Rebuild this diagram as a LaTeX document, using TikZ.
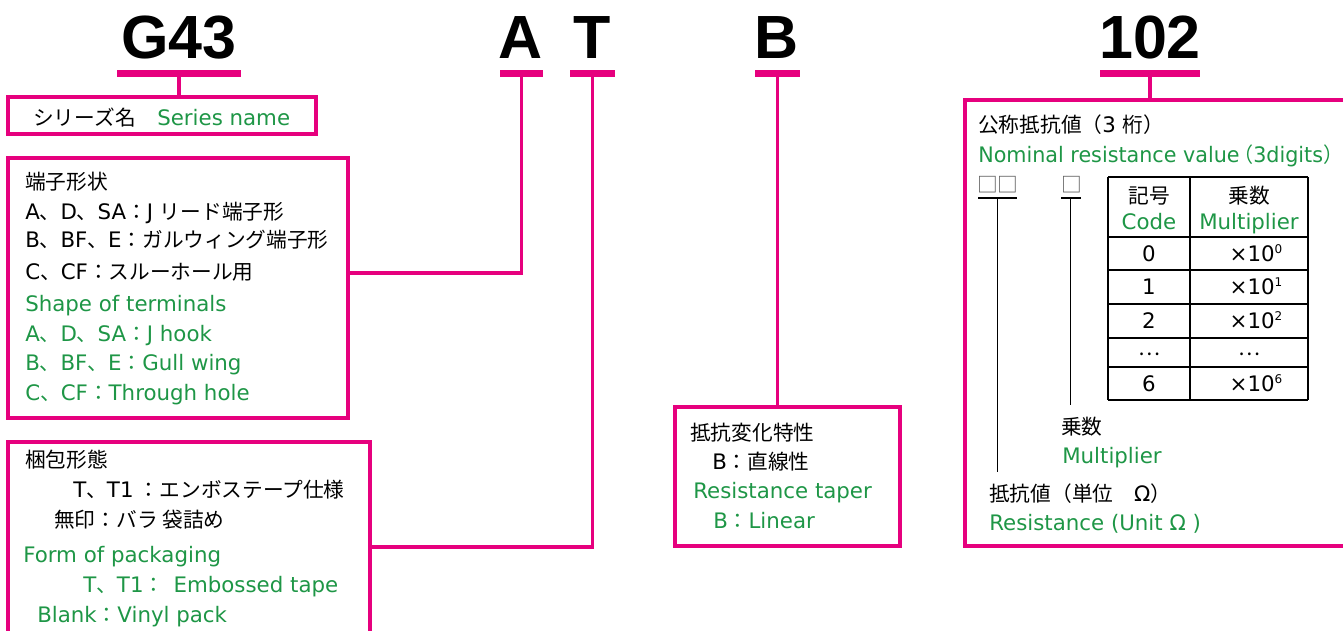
\documentclass[tikz,border=0pt]{standalone}
\usepackage{graphicx}
\usepackage{fontspec}
\setmainfont{DejaVu Sans}
\newfontfamily\jpfont{Noto Sans CJK JP}[Scale=0.97]
\newfontfamily\codefont{Liberation Sans}
\usepackage{tikz}
\usetikzlibrary{fit}
\definecolor{pmagenta}{RGB}{230,0,126}
\definecolor{pgreen}  {RGB}{30,150,70}
\definecolor{sqgray}  {RGB}{85,85,85}
\newcommand\jtext[1]{{\jpfont #1}}
\newcommand\pow[1]{\raisebox{6pt}{\fontsize{9}{9}\selectfont #1}}
\tikzset{
    code/.style={font=\codefont\bfseries\fontsize{45.75}{50}\selectfont, anchor=base, inner sep=0pt},
    bar/.style={fill=pmagenta, inner sep=0pt},
    lead/.style={draw=pmagenta, line width=2.3pt},
    pbox/.style={draw=pmagenta, line width=2.6pt, inner sep=0pt},
    txt/.style={font=\fontsize{16}{20}\selectfont, anchor=west, inner sep=0pt,
      text height=11.5pt, text depth=0pt},
    en/.style={txt, text=pgreen},
    cell/.style={font=\fontsize{16}{20}\selectfont, inner sep=0pt,
      text height=11.5pt, text depth=0pt},
    tick/.style={draw=black, line width=1.3pt}
  }

\begin{document}
\begin{tikzpicture}[x=0.75pt, y=-0.75pt]
 \useasboundingbox (0,0) rectangle (1343,631);
 \clip (0,0) rectangle (1343,631);
 %Part number
     \node[code] (g43) at (179,58.5) {G43};
     \node[code] (a)   at (521,58.5) {A};
     \node[code] (t)   at (592.5,58.5) {T};
     \node[code] (b)   at (777,58.5) {B};
     \node[code] (val) at (1150,58.5) {102};
 %Bars
     \node[bar, fit={(117,70) (241,77)}]   (g43bar) {};
     \node[bar, fit={(500,70) (543,77)}]   (abar)   {};
     \node[bar, fit={(570,70) (615,77)}]   (tbar)   {};
     \node[bar, fit={(755,70) (800,77)}]   (bbar)   {};
     \node[bar, fit={(1100,70) (1200,77)}] (valbar) {};
 %Boxes
     \node[pbox, fit={(8,97) (316,134)}]    (series)  {};
     \node[pbox, fit={(8,158) (348,418)}]   (shape)   {};
     \node[pbox, fit={(8,442) (370,660)}]   (pack)    {};
     \node[pbox, fit={(675,407) (900,546)}] (taper)   {};
     \node[pbox, fit={(965,100) (1380,546)}] (nominal) {};
 %Leads
     \coordinate (aturn) at (0,273);
     \coordinate (tturn) at (0,547);
     \draw[lead] (g43bar.south) -- (g43bar.south |- series.north);
     \draw[lead] (abar.south) |- (shape.east |- aturn);
     \draw[lead] (tbar.south) |- (pack.east |- tturn);
     \draw[lead] (bbar.south) -- (bbar.south |- taper.north);
     \draw[lead] (valbar.south) -- (valbar.south |- nominal.north);
 %Series name
     \node[txt] (series1) at (33,118)  {\jtext{シリーズ名}};
     \node[en]  (series2) at (157,118) {Series name};
 %Shape of terminals
     \node[txt] (shape1) at (25,182) {\jtext{端子形状}};
     \node[txt] (shape2) at (25,212) {A\jtext{、}D\jtext{、}SA\jtext{：}J \jtext{リード端子形}};
     \node[txt] (shape3) at (25,240) {B\jtext{、}BF\jtext{、}E\jtext{：ガルウィング端子形}};
     \node[txt] (shape4) at (25,272) {C\jtext{、}CF\jtext{：スルーホール用}};
     \node[en]  (shape5) at (25,304) {Shape of terminals};
     \node[en]  (shape6) at (25,334) {A\jtext{、}D\jtext{、}SA\jtext{：}J hook};
     \node[en]  (shape7) at (25,363) {B\jtext{、}BF\jtext{、}E\jtext{：}Gull wing};
     \node[en]  (shape8) at (25,393) {C\jtext{、}CF\jtext{：}Through hole};
 %Packaging
     \node[txt] (pack1) at (25,460) {\jtext{梱包形態}};
     \node[txt] (pack2) at (73,490) {T\jtext{、}T1\hspace{4pt}\jtext{：エンボステープ仕様}};
     \node[txt] (pack3) at (54,520) {\jtext{無印：バラ 袋詰め}};
     \node[en]  (pack4) at (23,555) {Form of packaging};
     \node[en]  (pack5) at (83,585) {T\jtext{、}T1\jtext{：}\hspace{7pt}Embossed tape};
     \node[en]  (pack6) at (37,615) {Blank\jtext{：}Vinyl pack};
 %Resistance taper
     \node[txt] (taper1) at (690,433) {\jtext{抵抗変化特性}};
     \node[txt] (taper2) at (712,462) {B\jtext{：直線性}};
     \node[en]  (taper3) at (693,491) {Resistance taper};
     \node[en]  (taper4) at (713,521) {B\jtext{：}Linear};
 %Nominal resistance
     \node[txt] (nom1) at (978,125) {\jtext{公称抵抗値（}3 \jtext{桁）}};
     \node[en]  (nom2) at (978,155) {\scalebox{0.97}[1]{Nominal resistance value\hspace{-5pt}\jtext{（}3digits\jtext{）}}};
     \node[txt, text=sqgray] (sq2) at (977,185) {\jtext{□□}};
     \node[txt, text=sqgray] (sq1) at (1061,185) {\jtext{□}};
     \draw[tick] (978,198) -- (1017,198) (997.5,198) -- (997.5,472);
     \draw[tick] (1061,198) -- (1081,198) (1070.5,198) -- (1070.5,405);
     \node[txt] (mult1) at (1061,427) {\jtext{乗数}};
     \node[en]  (mult2) at (1062,456) {Multiplier};
     \node[txt] (res1)  at (989,494)  {\jtext{抵抗値（単位　}Ω\jtext{）}};
     \node[en]  (res2)  at (989,523)  {Resistance (Unit Ω )};
 %Table
     \foreach \y in {177,237,270,304,338,367,400}
       \draw[tick] (1108,\y) -- (1308,\y);
     \foreach \x in {1108,1190,1308}
       \draw[tick] (\x,177) -- (\x,400);
     \node[cell] (codehead) at (1149,196) {\jtext{記号}};
     \node[cell, text=pgreen] (codehead2) at (1149,222) {Code};
     \node[cell] (multhead) at (1249,196) {\jtext{乗数}};
     \node[cell, text=pgreen] (multhead2) at (1249,222) {Multiplier};
     \foreach \c/\y in {0/253.5, 1/287, 2/321, 6/383.5}{
       \node[cell] (code\c) at (1149,\y) {\c};
       \node[cell] (mult\c) at (1256,\y) {×10\pow{\c}};
     }
     \node[cell] (codedots) at (1149,352) {\raisebox{3pt}{\jtext{…}}};
     \node[cell] (multdots) at (1249,352) {\raisebox{3pt}{\jtext{…}}};
\end{tikzpicture}
\end{document}
